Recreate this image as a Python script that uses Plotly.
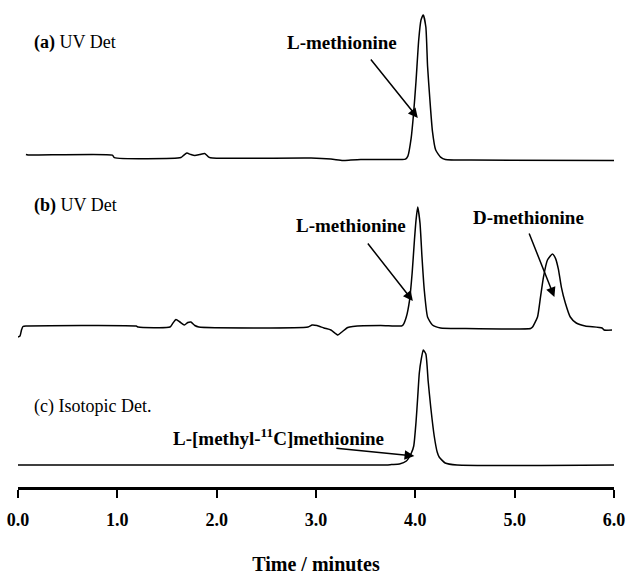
import plotly.graph_objects as go

# ---- data (time in minutes, detector signal in arbitrary units) ----
a_time = [0.08, 0.10, 0.95, 0.97, 1.64, 1.67, 1.70, 1.74, 1.78, 1.83, 1.88, 1.92, 1.96, 2.95, 3.15, 3.27, 3.35, 3.45, 3.75, 3.90,
          3.925, 3.958, 3.981, 4.007, 4.034, 4.057, 4.080, 4.106, 4.123, 4.146, 4.172, 4.205, 4.254, 4.303, 4.56, 6.00]
a_signal = [3.5, 3, 3, 0.5, 0.5, 3, 5, 3.5, 2.5, 3.5, 4.5, 1, 0, 0, -1, -2.5, -2, -1.5, -1.5, -1,
            2, 20, 43, 77, 118, 138, 143, 131, 92, 59, 27, 8, 1, -1.5, -2, -2.5]

b_time = [0.00, 0.02, 0.035, 0.05, 0.08, 1.19, 1.21, 1.53, 1.56, 1.59, 1.63, 1.675, 1.71, 1.74, 1.78, 1.82, 2.92, 2.96, 3.01,
          3.08, 3.15, 3.22, 3.26, 3.32, 3.37, 3.65, 3.86, 3.876, 3.909, 3.942, 3.968, 3.991, 4.007, 4.024, 4.047, 4.067,
          4.090, 4.123, 4.172, 4.254, 4.46, 5.16, 5.18, 5.23, 5.26, 5.29, 5.33, 5.38, 5.41, 5.44, 5.47, 5.51, 5.56, 5.62,
          5.71, 5.88, 5.90, 5.98]
b_signal = [-10, -9, -3, 0.5, 1, 1, 0, 0, 4, 7.5, 5, 2, 4.5, 5, 1.5, 0, 0, 2, 1.5,
            -1, -3, -8, -5, -0.5, 0.5, 1.5, 1, 2, 10, 27, 54, 87, 107, 120, 104, 70,
            37, 10, 2, -1, -1.5, -1.5, 0, 10, 30, 50, 67, 73, 69, 58, 40, 24, 10, 4,
            1, -1, -3, -3]

c_time = [0.00, 3.71, 3.76, 3.84, 3.91, 3.96, 3.984, 4.007, 4.024, 4.04, 4.06, 4.08, 4.106, 4.129, 4.156, 4.19, 4.22,
          4.24, 4.30, 4.42, 6.00]
c_signal = [0, 0, 0.5, 1, 4, 12, 19, 43, 68, 92, 106, 115, 111, 84, 57, 29, 13, 8, 2, 0, 0]

tick_vals = [0, 1, 2, 3, 4, 5, 6]
tick_text = ["0.0", "1.0", "2.0", "3.0", "4.0", "5.0", "6.0"]

SERIF = "Liberation Serif"
line = dict(color="black", width=1.5, shape="spline", smoothing=0.5)

fig = go.Figure()
fig.add_trace(go.Scatter(x=a_time, y=a_signal, mode="lines", line=line, xaxis="x", yaxis="y", showlegend=False))
fig.add_trace(go.Scatter(x=b_time, y=b_signal, mode="lines", line=line, xaxis="x", yaxis="y2", showlegend=False))
fig.add_trace(go.Scatter(x=c_time, y=c_signal, mode="lines", line=line, xaxis="x", yaxis="y3", showlegend=False))

def label(text, x, y, yref, bold=False, xanchor="center", size=18):
    fig.add_annotation(text=text, x=x, y=y, xref="x", yref=yref, showarrow=False,
                       xanchor=xanchor, yanchor="middle",
                       font=dict(family=SERIF, size=size, color="black", weight="bold" if bold else "normal"))

def arrow(x0, y0, x1, y1, yref):
    fig.add_annotation(text="", x=x1, y=y1, ax=x0, ay=y0, xref="x", yref=yref, axref="x", ayref=yref,
                       showarrow=True, arrowhead=2, arrowsize=1.3, arrowwidth=1.5, arrowcolor="black")

label("<b>(a)</b> UV Det", 0.14, 116, "y", xanchor="left")
label("L-methionine", 3.26, 116, "y", bold=True, size=19)
arrow(3.54, 100, 4.025, 40, "y")

label("<b>(b)</b> UV Det", 0.14, 122, "y2", xanchor="left")
label("L-methionine", 3.35, 102, "y2", bold=True, size=19)
arrow(3.51, 85, 3.975, 26, "y2")
label("D-methionine", 5.14, 110, "y2", bold=True, size=19)
arrow(5.14, 95, 5.40, 30, "y2")

label("(c) Isotopic Det.", 0.14, 58, "y3", xanchor="left")
label("L-[methyl-<sup>11</sup>C]methionine", 2.62, 28, "y3", bold=True, size=19)
arrow(3.19, 17, 3.99, 9, "y3")

hidden = dict(visible=False, showgrid=False, zeroline=False, anchor="x")
fig.update_layout(
    width=638, height=575,
    margin=dict(l=18, r=24, t=5, b=88),
    paper_bgcolor="white", plot_bgcolor="white",
    xaxis=dict(range=[0, 6], tickvals=tick_vals, ticktext=tick_text, anchor="y3", automargin=False,
               showline=True, linewidth=3, linecolor="black", ticks="outside", ticklen=8,
               tickwidth=2, tickcolor="black", showgrid=False, zeroline=False,
               tickfont=dict(family=SERIF, size=18, color="black", weight="bold"),
               ticklabelstandoff=6,
               title=dict(text="Time / minutes", standoff=30,
                          font=dict(family=SERIF, size=20, color="black", weight="bold"))),
    yaxis=dict(domain=[0.616, 1.0], range=[-32, 153], **hidden),
    yaxis2=dict(domain=[0.305, 0.616], range=[-13, 137], **hidden),
    yaxis3=dict(domain=[0.0, 0.305], range=[-22, 125], **hidden),
)

fig.write_html("out.html", config={"displayModeBar": False},
               post_script="document.body.style.margin='0px';")
